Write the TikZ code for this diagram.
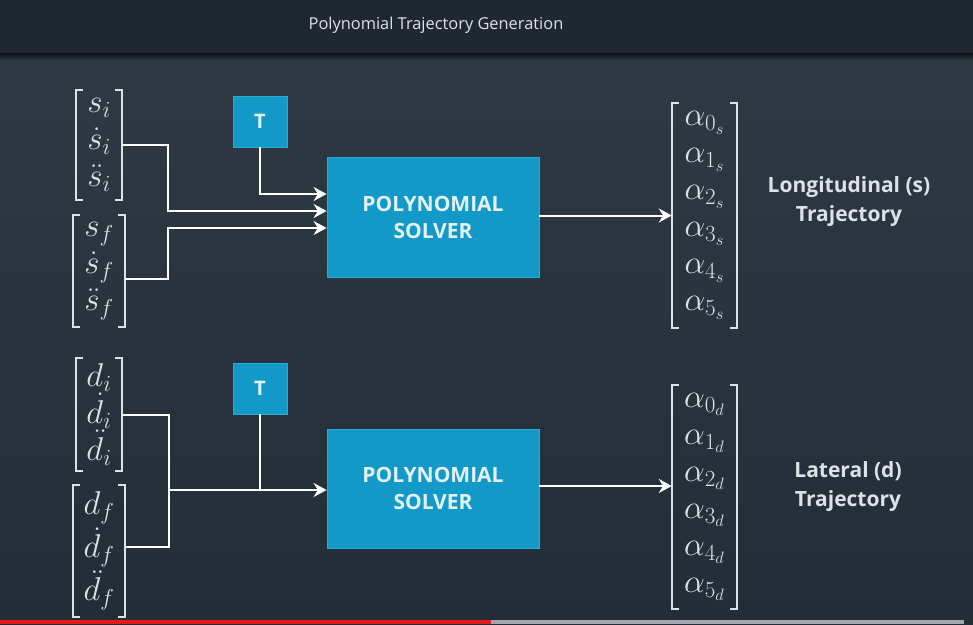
\RequirePackage{fix-cm}
\documentclass[tikz,border=0pt]{standalone}
\usepackage{fontspec}
\usetikzlibrary{arrows.meta}
\newfontfamily\osans{Open Sans}
\newcommand{\vecfont}[1]{\fontsize{33}{#1}\selectfont\lineskiplimit-100pt\relax}

\definecolor{topbar}{HTML}{1F2831}
\definecolor{bgtop}{HTML}{2E3944}
\definecolor{bgbot}{HTML}{232D37}
\definecolor{solverblue}{HTML}{1299C7}
\definecolor{solveredge}{HTML}{2AAAD6}
\definecolor{brk}{HTML}{DDE2E6}
\definecolor{boxtext}{HTML}{E3F2F7}
\definecolor{progred}{HTML}{E41B17}
\definecolor{proggrey}{HTML}{A3A7AB}

\tikzset{
  wire/.style={draw=white, line width=2pt},
  tip/.style={-{Stealth[length=13pt,width=14pt]}},
  solver/.style={fill=solverblue, draw=solveredge, line width=0.8pt,
    minimum width=212pt, minimum height=120pt, align=center, text=boxtext,
    font=\osans\bfseries\fontsize{21}{27}\selectfont},
  tbox/.style={fill=solverblue, draw=solveredge, line width=0.8pt,
    minimum width=54pt, minimum height=51pt, text=boxtext,
    font=\osans\bfseries\fontsize{20}{22}\selectfont},
  vecnode/.style={inner sep=0pt, align=left, text=brk, font={\vecfont{#1}}},
  vecnode/.default=37,
  brkline/.style={draw=brk, line width=1.6pt},
  sidelabel/.style={align=center, text=brk,
    font=\osans\bfseries\fontsize{21}{29}\selectfont},
}
\newcommand{\vecbrackets}[1]{%
  \draw[brkline] ([xshift=7pt]#1.north west) -- (#1.north west)
      -- (#1.south west) -- ([xshift=7pt]#1.south west)
    ([xshift=-7pt]#1.north east) -- (#1.north east)
      -- (#1.south east) -- ([xshift=-7pt]#1.south east);}

\begin{document}
\begin{tikzpicture}[x=1pt, y=-1pt]
    \useasboundingbox (0,0) rectangle (973,624);

    % background, title bar and progress bar
    \shade[top color=bgtop, bottom color=bgbot] (0,53) rectangle (973,624);
    \shade[top color=black!60!topbar, bottom color=bgtop] (0,53) rectangle (973,60);
    \fill[topbar] (0,0) rectangle (973,53);
    \node[text=brk, font=\osans\fontsize{16.4}{18}\selectfont] (title) at (436,25) {Polynomial Trajectory Generation};
    \fill[progred] (0,620) rectangle (491,624);
    \fill[proggrey] (491,620) rectangle (964,624);

    % longitudinal
    \node[vecnode, minimum width=46pt, minimum height=110pt] (si) at (99,145)
        {$s_i$\\ $\dot{s}_i$\\ $\ddot{s}_i$};
    \node[vecnode, minimum width=52pt, minimum height=112pt] (sf) at (99,271)
        {$s_f$\\ $\dot{s}_f$\\ $\ddot{s}_f$};
    \node[tbox] (Ts) at (260,121.5) {T};
    \node[solver] (solvs) at (433,217) {POLYNOMIAL\\SOLVER};
    \node[vecnode, minimum width=65pt, minimum height=225pt] (as) at (704.5,215.5)
        {$\alpha_{0_s}$\\ $\alpha_{1_s}$\\ $\alpha_{2_s}$\\ $\alpha_{3_s}$\\ $\alpha_{4_s}$\\ $\alpha_{5_s}$};
    \node[sidelabel] (lons) at (849,202) {Longitudinal (s)\\Trajectory};
    \vecbrackets{si}
    \vecbrackets{sf}
    \vecbrackets{as}

    \coordinate (jt) at (260,194);
    \coordinate (js) at (168,211);
    \coordinate (jf) at (168,228);
    \draw[wire, tip] (Ts.south) -- (jt) -- (jt -| solvs.west);
    \draw[wire, tip] (si.east) -| (js) -- (js -| solvs.west);
    \draw[wire, tip] ([yshift=-8pt]sf.east) -| (jf) -- (jf -| solvs.west);
    \draw[wire, tip] (solvs.east |- as.west) -- (as.west);

    % lateral
    \node[vecnode, minimum width=46pt, minimum height=113pt] (di) at (99,414.5)
        {$d_i$\\ $\dot{d}_i$\\ $\ddot{d}_i$};
    \node[vecnode=43, minimum width=52pt, minimum height=132pt] (df) at (99,551)
        {$d_f$\\ $\dot{d}_f$\\ $\ddot{d}_f$};
    \node[tbox] (Td) at (260,388.5) {T};
    \node[solver, minimum height=119pt] (solvd) at (433,488.5) {POLYNOMIAL\\SOLVER};
    \node[vecnode, minimum width=65pt, minimum height=224pt] (ad) at (704.5,497)
        {$\alpha_{0_d}$\\ $\alpha_{1_d}$\\ $\alpha_{2_d}$\\ $\alpha_{3_d}$\\ $\alpha_{4_d}$\\ $\alpha_{5_d}$};
    \node[sidelabel] (latd) at (848,487) {Lateral (d)\\Trajectory};
    \vecbrackets{di}
    \vecbrackets{df}
    \vecbrackets{ad}

    \coordinate (jd) at (169,490);
    \draw[wire] (di.east) -| (jd) |- ([yshift=4pt]df.east);
    \draw[wire] (Td.south) -- (Td.south |- jd);
    \draw[wire, tip] (jd) -- (jd -| solvd.west);
    \draw[wire, tip] (solvd.east |- 0,486) -- (ad.west |- 0,486);
\end{tikzpicture}
\end{document}
